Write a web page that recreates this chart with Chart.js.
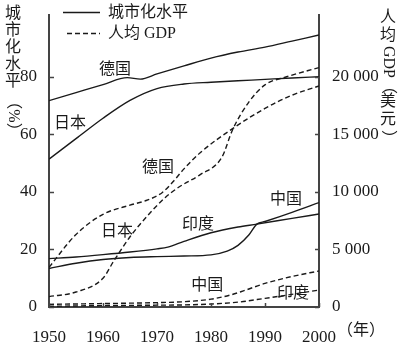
<!DOCTYPE html>
<html>
<head>
<meta charset="utf-8">
<script src="https://cdn.jsdelivr.net/npm/chart.js@4.4.1/dist/chart.umd.min.js"></script>
<style>html,body{margin:0;padding:0;background:#fff}</style>
</head>
<body>
<canvas id="chart" width="400" height="343"></canvas>
<script>
// urbanisation (%)
const deUrbanYears = [1950, 1955, 1960, 1964.5, 1966.9, 1970, 1975, 1980, 1985, 1990, 1995, 2000];
const deUrbanValues = [71.7, 74.5, 77.3, 79.7, 79.2, 81, 83.8, 86.5, 88.6, 90.3, 92.4, 94.5];
const jpUrbanYears = [1950, 1955, 1960, 1965, 1970, 1975, 1980, 1985, 1990, 1995, 2000];
const jpUrbanValues = [51.4, 58.5, 65.6, 71.8, 75.9, 77.5, 78.1, 78.6, 79.1, 79.6, 80];
const cnUrbanYears = [1950, 1955, 1960, 1965, 1970, 1975, 1980, 1983, 1985, 1987, 1988.5, 1990, 1995, 2000];
const cnUrbanValues = [13.4, 15.2, 16.5, 17.2, 17.5, 17.7, 18.1, 19.4, 21.4, 25, 28.8, 29.7, 32.9, 36.3];
const inUrbanYears = [1950, 1955, 1960, 1965, 1970, 1972, 1975, 1980, 1985, 1988.5, 1995, 2000];
const inUrbanValues = [16.8, 17.4, 18.2, 19.1, 20.2, 20.8, 22.8, 25.8, 27.8, 28.8, 30.8, 32.3];

// GDP per capita (USD)
const deGdpYears = [1950, 1955, 1960, 1965, 1968, 1971, 1973, 1975, 1978, 1984, 1990, 1995, 2000];
const deGdpValues = [3450, 6300, 8050, 8850, 9250, 9950, 10900, 12000, 13400, 15500, 17250, 18400, 19200];
const jpGdpYears = [1950, 1955, 1960, 1962, 1965, 1968, 1971.5, 1974, 1978, 1982, 1984, 1987, 1990, 1994, 2000];
const jpGdpValues = [900, 1300, 2500, 4000, 6100, 7800, 9500, 10400, 11500, 13000, 15400, 17800, 19300, 20000, 20800];
const cnGdpYears = [1950, 1960, 1970, 1975, 1980, 1983.5, 1986, 1990, 1995, 2000];
const cnGdpValues = [230, 300, 380, 460, 680, 1030, 1400, 2050, 2650, 3130];
const inGdpYears = [1950, 1960, 1970, 1975, 1980, 1985, 1990, 1995, 2000];
const inGdpValues = [60, 120, 160, 180, 260, 420, 750, 1100, 1470];

const leftTicks = [0, 20, 40, 60, 80];
const rightTicks = [0, 5000, 10000, 15000, 20000];
const yearTicks = [1950, 1960, 1970, 1980, 1990, 2000];

// curve labels: text, year, urbanisation-axis value
const curveLabels = [
  ["德国", 1962.2, 82.4],
  ["日本", 1953.9, 63.8],
  ["德国", 1970.2, 48.3],
  ["日本", 1962.6, 26.2],
  ["印度", 1977.6, 28.6],
  ["中国", 1993.9, 37.2],
  ["中国", 1979.3, 7.2],
  ["印度", 1995.2, 4.5]
];

const FONT = "'Liberation Serif', 'Noto Sans CJK SC', serif";
const INK = "#1a1a1a";

function pts(xs, ys) {
  return xs.map((x, i) => ({ x: x, y: ys[i] }));
}

function urban(xs, ys) {
  return { data: pts(xs, ys), yAxisID: "y", borderColor: INK, borderWidth: 1.4,
    pointRadius: 0, cubicInterpolationMode: "monotone", fill: false };
}
function gdp(xs, ys) {
  return { data: pts(xs, ys), yAxisID: "y2", borderColor: INK, borderWidth: 1.4,
    borderDash: [5, 3], pointRadius: 0, cubicInterpolationMode: "monotone", fill: false };
}

function fmtThousands(v) {
  return v >= 10000 || v >= 1000 ? String(v).replace(/(\d)(?=(\d{3})+$)/, "$1 ") : String(v);
}

const decor = {
  id: "decor",
  afterDraw(chart) {
    const ctx = chart.ctx;
    const a = chart.chartArea;
    const sx = chart.scales.x, sy = chart.scales.y, sy2 = chart.scales.y2;
    ctx.save();

    // inner tick marks
    ctx.strokeStyle = "#444";
    ctx.lineWidth = 1.5;
    ctx.beginPath();
    leftTicks.forEach(v => { const y = Math.round(sy.getPixelForValue(v)) + 0.5; ctx.moveTo(a.left, y); ctx.lineTo(a.left + 5, y); });
    rightTicks.forEach(v => { const y = Math.round(sy2.getPixelForValue(v)) + 0.5; ctx.moveTo(a.right, y); ctx.lineTo(a.right - 4, y); });
    yearTicks.forEach(v => { const x = Math.round(sx.getPixelForValue(v)) + 0.5; ctx.moveTo(x, a.bottom); ctx.lineTo(x, a.bottom - 4); });
    ctx.stroke();

    // legend
    ctx.strokeStyle = INK;
    ctx.lineWidth = 1.4;
    ctx.beginPath(); ctx.moveTo(63, 12.5); ctx.lineTo(100, 12.5); ctx.stroke();
    ctx.setLineDash([5, 3]);
    ctx.beginPath(); ctx.moveTo(67, 33.5); ctx.lineTo(100, 33.5); ctx.stroke();
    ctx.setLineDash([]);
    ctx.fillStyle = INK;
    ctx.font = "16px " + FONT;
    ctx.textAlign = "left";
    ctx.textBaseline = "middle";
    ctx.fillText("城市化水平", 108, 13);
    ctx.fillText("人均 GDP", 108, 34);

    // curve labels
    ctx.textAlign = "center";
    curveLabels.forEach(l => {
      ctx.fillText(l[0], sx.getPixelForValue(l[1]), sy.getPixelForValue(l[2]));
    });

    // year unit
    ctx.textAlign = "left";
    ctx.fillText("（年）", 337, 331);

    // left axis title, vertical
    ctx.textAlign = "center";
    ["城", "市", "化", "水", "平"].forEach((c, i) => ctx.fillText(c, 13, 14 + i * 17));
    ctx.save();
    ctx.translate(13, 116);
    ctx.rotate(Math.PI / 2);
    ctx.fillText("（%）", 0, 0);
    ctx.restore();

    // right axis title, vertical
    const rx = 388;
    ctx.fillText("人", rx, 18);
    ctx.fillText("均", rx, 36);
    ctx.save(); ctx.translate(rx, 62); ctx.rotate(Math.PI / 2); ctx.fillText("GDP", 0, 0); ctx.restore();
    ctx.save(); ctx.translate(rx, 86); ctx.rotate(Math.PI / 2); ctx.fillText("（", 0, 0); ctx.restore();
    ctx.fillText("美", rx, 102);
    ctx.fillText("元", rx, 120);
    ctx.save(); ctx.translate(rx, 138); ctx.rotate(Math.PI / 2); ctx.fillText("）", 0, 0); ctx.restore();

    ctx.restore();
  }
};

new Chart("chart", {
  type: "line",
  data: {
    datasets: [
      urban(deUrbanYears, deUrbanValues),
      urban(jpUrbanYears, jpUrbanValues),
      urban(cnUrbanYears, cnUrbanValues),
      urban(inUrbanYears, inUrbanValues),
      gdp(deGdpYears, deGdpValues),
      gdp(jpGdpYears, jpGdpValues),
      gdp(cnGdpYears, cnGdpValues),
      gdp(inGdpYears, inGdpValues)
    ]
  },
  options: {
    responsive: false,
    animation: false,
    devicePixelRatio: 1,
    layout: { padding: { top: 13, left: 0, right: 0, bottom: 0 } },
    plugins: { legend: { display: false }, tooltip: { enabled: false } },
    scales: {
      x: {
        type: "linear", min: 1950, max: 2000,
        grid: { display: false },
        border: { color: "#444", width: 2 },
        afterBuildTicks: s => { s.ticks = yearTicks.map(v => ({ value: v })); },
        afterFit: s => { s.height = 36; },
        ticks: { autoSkip: false, maxRotation: 0, padding: 12, color: INK,
          font: { family: FONT, size: 17 }, callback: v => String(v) }
      },
      y: {
        position: "left", min: 0, max: 101.4,
        grid: { display: false },
        border: { color: "#444", width: 2 },
        afterBuildTicks: s => { s.ticks = leftTicks.map(v => ({ value: v })); },
        afterFit: s => { s.width = 49; },
        ticks: { autoSkip: false, padding: 4, color: INK,
          font: { family: FONT, size: 17 }, callback: v => String(v) }
      },
      y2: {
        position: "right", min: 0, max: 25350,
        grid: { display: false },
        border: { color: "#444", width: 2 },
        afterBuildTicks: s => { s.ticks = rightTicks.map(v => ({ value: v })); },
        afterFit: s => { s.width = 81; },
        ticks: { autoSkip: false, padding: 5, color: INK,
          font: { family: FONT, size: 17 }, callback: v => fmtThousands(v) }
      }
    }
  },
  plugins: [decor]
});
</script>
</body>
</html>
